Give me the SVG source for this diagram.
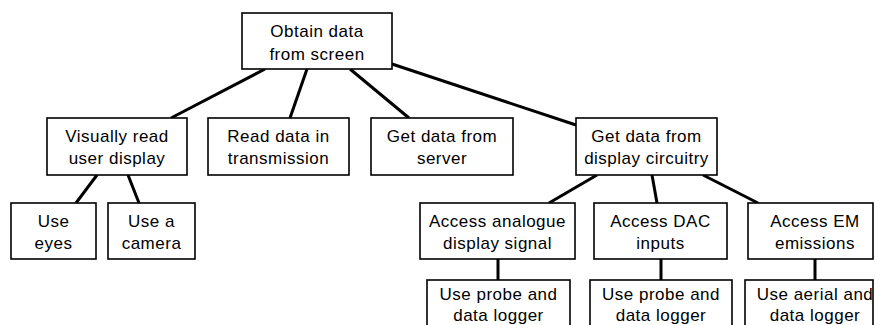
<svg xmlns="http://www.w3.org/2000/svg" width="875" height="325" viewBox="0 0 875 325">
<style>
.box{fill:#fff;stroke:#000;stroke-width:1.6}
.t{font-family:"Liberation Sans",Arial,sans-serif;font-size:17px;letter-spacing:0.5px;text-anchor:middle;fill:#000}
.c{stroke:#000;stroke-width:3;fill:none;stroke-linecap:butt}
</style>
<rect width="875" height="325" fill="#fff"/>
<g id="connectors">
<line class="c" x1="265" y1="69" x2="171" y2="118"/>
<line class="c" x1="307" y1="69" x2="290" y2="118"/>
<line class="c" x1="350" y1="69" x2="409" y2="118"/>
<line class="c" x1="392" y1="64" x2="576" y2="125"/>
<line class="c" x1="97" y1="175" x2="76" y2="203"/>
<line class="c" x1="128" y1="175" x2="139" y2="203"/>
<line class="c" x1="597" y1="175" x2="549" y2="203"/>
<line class="c" x1="652" y1="175" x2="657" y2="203"/>
<line class="c" x1="703" y1="175" x2="758" y2="203"/>
<line class="c" x1="498" y1="259" x2="498" y2="280"/>
<line class="c" x1="661" y1="259" x2="661" y2="280"/>
<line class="c" x1="815" y1="259" x2="815" y2="280"/>
</g>
<g id="n_root"><rect class="box" x="242" y="13" width="150" height="56"/><text class="t" x="317" y="37">Obtain data</text><text class="t" x="317" y="60">from screen</text></g>
<g id="n_visual"><rect class="box" x="47" y="118" width="140" height="57"/><text class="t" x="117" y="142">Visually read</text><text class="t" x="117" y="164">user display</text></g>
<g id="n_transmission"><rect class="box" x="208" y="118" width="141" height="57"/><text class="t" x="278.5" y="142">Read data in</text><text class="t" x="278.5" y="164">transmission</text></g>
<g id="n_server"><rect class="box" x="371" y="118" width="142" height="57"/><text class="t" x="442" y="142">Get data from</text><text class="t" x="442" y="164">server</text></g>
<g id="n_circuitry"><rect class="box" x="576" y="118" width="141" height="57"/><text class="t" x="646.5" y="142">Get data from</text><text class="t" x="646.5" y="164">display circuitry</text></g>
<g id="n_eyes"><rect class="box" x="11" y="203" width="85" height="56"/><text class="t" x="53.5" y="227">Use</text><text class="t" x="53.5" y="249">eyes</text></g>
<g id="n_camera"><rect class="box" x="108" y="203" width="87" height="56"/><text class="t" x="151.5" y="227">Use a</text><text class="t" x="151.5" y="249">camera</text></g>
<g id="n_analogue"><rect class="box" x="420" y="203" width="155" height="56"/><text class="t" x="497.5" y="227">Access analogue</text><text class="t" x="497.5" y="249">display signal</text></g>
<g id="n_dac"><rect class="box" x="594" y="203" width="133" height="56"/><text class="t" x="660.5" y="227">Access DAC</text><text class="t" x="660.5" y="249">inputs</text></g>
<g id="n_em"><rect class="box" x="748" y="203" width="125" height="56"/><text class="t" x="815" y="227">Access EM</text><text class="t" x="815" y="249">emissions</text></g>
<g id="n_probe1"><rect class="box" x="427" y="280" width="143" height="60"/><text class="t" x="498.5" y="300">Use probe and</text><text class="t" x="498.5" y="321">data logger</text></g>
<g id="n_probe2"><rect class="box" x="590" y="280" width="142" height="60"/><text class="t" x="661" y="300">Use probe and</text><text class="t" x="661" y="321">data logger</text></g>
<g id="n_aerial"><rect class="box" x="745" y="280" width="128" height="60"/><text class="t" x="815" y="300">Use aerial and</text><text class="t" x="815" y="321">data logger</text></g>
</svg>
